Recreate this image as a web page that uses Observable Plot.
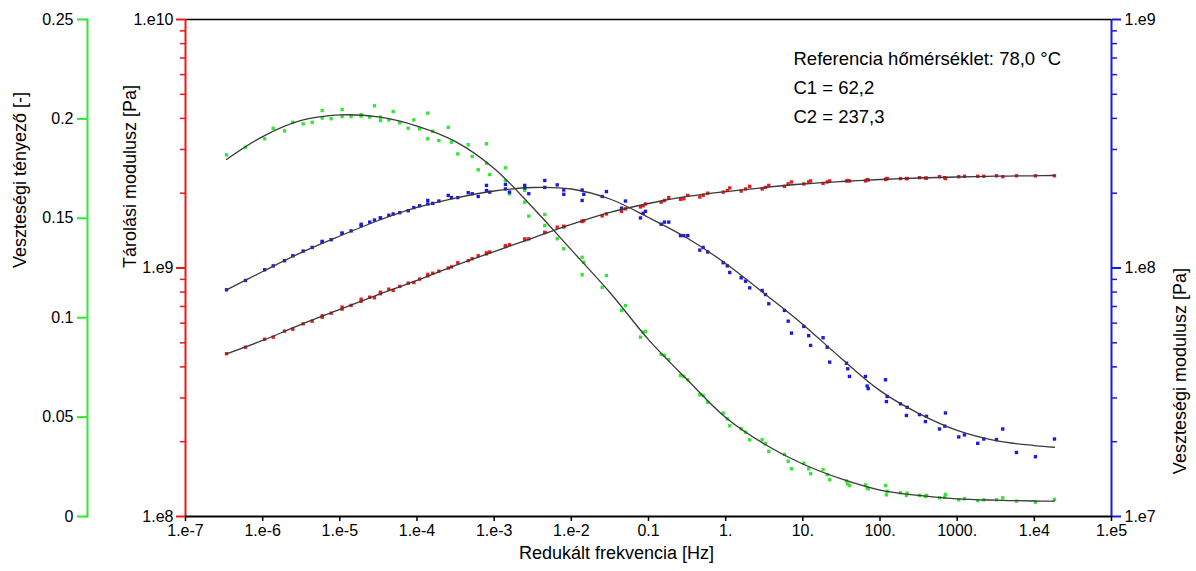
<!DOCTYPE html>
<html>
<head>
<meta charset="utf-8">
<script src="https://cdn.jsdelivr.net/npm/d3@7"></script>
<script src="https://cdn.jsdelivr.net/npm/@observablehq/plot@0.6"></script>
<style>
  html, body { margin: 0; padding: 0; background: #fff; }
  #wrap { position: relative; width: 1196px; height: 571px; }
  #wrap > svg, #wrap > figure { position: absolute; left: 0; top: 0; margin: 0; }
</style>
</head>
<body>
<div id="wrap"></div>
<script>
// ---------- measured data (reduced frequency sweep) ----------
const freq = [
  3.40e-7, 5.99e-7, 1.06e-6, 1.37e-6, 1.92e-6, 2.46e-6, 3.35e-6, 4.38e-6, 5.91e-6, 5.91e-6,
  7.73e-6, 1.07e-5, 1.07e-5, 1.40e-5, 1.89e-5, 1.89e-5, 2.44e-5, 2.81e-5, 3.36e-5, 3.36e-5,
  4.31e-5, 4.91e-5, 5.98e-5, 7.69e-5, 9.09e-5, 1.08e-4, 1.38e-4, 1.38e-4,
  1.60e-4, 1.92e-4, 2.54e-4, 2.80e-4, 3.38e-4, 4.61e-4, 5.19e-4, 6.21e-4, 7.95e-4, 7.95e-4,
  8.77e-4, 1.40e-3, 1.40e-3, 1.58e-3, 2.49e-3, 2.49e-3, 2.81e-3, 4.53e-3, 4.53e-3, 6.56e-3,
  7.98e-3, 7.98e-3, 1.38e-2, 1.45e-2, 1.38e-2, 2.51e-2, 2.85e-2, 4.47e-2, 5.03e-2, 7.87e-2,
  8.53e-2, 9.14e-2, 0.146, 0.161, 0.183, 0.260, 0.287, 0.323, 0.462, 0.511,
  0.586, 0.928, 1.05, 1.13, 1.59, 1.81, 2.05, 2.97, 3.28, 3.62,
  5.78, 6.46, 7.13, 10.3, 11.9, 12.6, 18.3, 20.7, 22.3,
  36.8, 38.2, 40.2, 64.8, 68.2, 70.3, 118, 121, 124, 184,
  220, 225, 325, 388, 400, 590, 691, 705, 1049, 1243,
  1849, 2212, 3231, 3898, 5869, 10340, 18230
];
const storageModulus = [
  4.52e8, 4.80e8, 5.17e8, 5.27e8, 5.57e8, 5.67e8, 5.96e8, 6.11e8, 6.34e8, 6.42e8,
  6.58e8, 6.83e8, 6.96e8, 7.07e8, 7.35e8, 7.49e8, 7.63e8, 7.59e8, 7.88e8, 7.99e8,
  8.22e8, 8.12e8, 8.43e8, 8.69e8, 8.74e8, 9.02e8, 9.30e8, 9.42e8,
  9.53e8, 9.71e8, 1.00e9, 1.01e9, 1.05e9, 1.07e9, 1.09e9, 1.12e9, 1.14e9, 1.15e9,
  1.16e9, 1.22e9, 1.23e9, 1.24e9, 1.30e9, 1.31e9, 1.31e9, 1.39e9, 1.39e9, 1.46e9,
  1.47e9, 1.47e9, 1.54e9, 1.55e9, 1.54e9, 1.62e9, 1.65e9, 1.69e9, 1.73e9, 1.76e9,
  1.78e9, 1.81e9, 1.84e9, 1.87e9, 1.92e9, 1.89e9, 1.90e9, 1.96e9, 1.93e9, 1.96e9,
  2.00e9, 2.02e9, 2.05e9, 2.10e9, 2.04e9, 2.08e9, 2.13e9, 2.08e9, 2.11e9, 2.15e9,
  2.13e9, 2.18e9, 2.22e9, 2.18e9, 2.22e9, 2.24e9, 2.19e9, 2.22e9, 2.24e9,
  2.24e9, 2.25e9, 2.24e9, 2.24e9, 2.27e9, 2.26e9, 2.27e9, 2.29e9, 2.29e9, 2.29e9,
  2.29e9, 2.29e9, 2.31e9, 2.30e9, 2.30e9, 2.33e9, 2.31e9, 2.29e9, 2.33e9, 2.34e9,
  2.34e9, 2.34e9, 2.35e9, 2.33e9, 2.35e9, 2.35e9, 2.35e9
];
const lossModulus = [
  8.17e7, 8.91e7, 9.84e7, 1.02e8, 1.07e8, 1.12e8, 1.17e8, 1.21e8, 1.27e8, 1.28e8,
  1.30e8, 1.38e8, 1.38e8, 1.41e8, 1.48e8, 1.50e8, 1.53e8, 1.56e8, 1.59e8, 1.59e8,
  1.63e8, 1.65e8, 1.67e8, 1.70e8, 1.75e8, 1.78e8, 1.81e8, 1.87e8,
  1.82e8, 1.86e8, 1.96e8, 1.92e8, 1.92e8, 2.01e8, 1.99e8, 1.94e8, 2.15e8, 2.05e8,
  2.02e8, 2.17e8, 2.08e8, 2.02e8, 2.15e8, 2.10e8, 1.99e8, 2.25e8, 2.11e8, 2.16e8,
  2.06e8, 1.98e8, 2.06e8, 1.98e8, 1.87e8, 1.94e8, 2.03e8, 1.74e8, 1.86e8, 1.59e8,
  1.66e8, 1.69e8, 1.50e8, 1.53e8, 1.53e8, 1.35e8, 1.35e8, 1.35e8, 1.18e8, 1.21e8,
  1.16e8, 1.05e8, 1.02e8, 9.59e7, 9.13e7, 8.85e7, 8.32e7, 8.12e7, 7.82e7, 7.18e7,
  6.75e7, 6.11e7, 5.47e7, 5.82e7, 5.34e7, 4.88e7, 5.24e7, 4.80e7, 4.18e7,
  4.14e7, 3.93e7, 3.66e7, 3.66e7, 3.35e7, 3.27e7, 3.55e7, 2.90e7, 3.04e7, 2.84e7,
  2.55e7, 2.75e7, 2.57e7, 2.41e7, 2.53e7, 2.25e7, 2.31e7, 2.61e7, 2.09e7, 2.13e7,
  1.97e7, 2.05e7, 2.04e7, 2.25e7, 1.81e7, 1.74e7, 2.05e7
];
const lossFactor = [
  0.1819, 0.1858, 0.1900, 0.1953, 0.1940, 0.1983, 0.1975, 0.1983, 0.2042, 0.2004,
  0.2001, 0.2047, 0.2012, 0.2012, 0.2021, 0.2014, 0.2009, 0.2066, 0.2009, 0.1992,
  0.1995, 0.2037, 0.1980, 0.1953, 0.1995, 0.1950, 0.2029, 0.1900,
  0.1938, 0.1891, 0.1958, 0.1883, 0.1824, 0.1870, 0.1811, 0.1744, 0.1875, 0.1777,
  0.1720, 0.1754, 0.1690, 0.1623, 0.1640, 0.1581, 0.1511, 0.1519, 0.1464, 0.1397,
  0.1347, 0.1455, 0.1304, 0.1279, 0.1216, 0.1153, 0.1212, 0.1036, 0.1061, 0.0902,
  0.0927, 0.0931, 0.0815, 0.0811, 0.0790, 0.0709, 0.0704, 0.0688, 0.0612, 0.0609,
  0.0575, 0.0520, 0.0491, 0.0456, 0.0441, 0.0424, 0.0386, 0.0386, 0.0366, 0.0328,
  0.0312, 0.0278, 0.0240, 0.0268, 0.0240, 0.0215, 0.0236, 0.0211, 0.0185,
  0.0178, 0.0164, 0.0156, 0.0159, 0.0144, 0.0139, 0.0156, 0.0109, 0.0127, 0.0119,
  0.0106, 0.0117, 0.0106, 0.0101, 0.0106, 0.0094, 0.0097, 0.0111, 0.0084, 0.0089,
  0.0080, 0.0084, 0.0084, 0.0094, 0.0077, 0.0072, 0.0086
];

// ---------- fitted master curves ----------
const fitFreq = [3.4e-7, 1e-6, 3.16e-6, 1e-5, 3.16e-5, 1e-4, 3.16e-4, 1e-3, 3.16e-3, 1e-2, 3.16e-2, 0.1,
  0.316, 1, 3.16, 10, 31.6, 100, 316, 1000, 3160, 1e4, 1.82e4];
const fitStorage = [4.51e8, 5.11e8, 5.93e8, 6.81e8, 7.82e8, 8.91e8, 1.024e9, 1.165e9, 1.32e9, 1.497e9, 1.673e9, 1.818e9,
  1.94e9, 2.031e9, 2.108e9, 2.178e9, 2.229e9, 2.271e9, 2.302e9, 2.324e9, 2.341e9, 2.35e9, 2.356e9];
const fitLoss = [8.16e7, 9.68e7, 1.154e8, 1.345e8, 1.553e8, 1.752e8, 1.912e8, 2.041e8, 2.108e8, 2.079e8, 1.895e8, 1.597e8,
  1.32e8, 1.043e8, 7.90e7, 5.93e7, 4.32e7, 3.21e7, 2.60e7, 2.22e7, 2.02e7, 1.93e7, 1.90e7];
const fitTan = [0.1796, 0.1911, 0.1992, 0.2020, 0.2010, 0.1964, 0.1886, 0.1751, 0.1554, 0.1341, 0.1127, 0.0890,
  0.0689, 0.0498, 0.0365, 0.0264, 0.0189, 0.0133, 0.0106, 0.0089, 0.0082, 0.0078, 0.0077];

// ---------- axes / text ----------
const xTicks = [1e-7, 1e-6, 1e-5, 1e-4, 1e-3, 1e-2, 1e-1, 1, 10, 100, 1000, 1e4, 1e5];
const xTickLabels = ["1.e-7", "1.e-6", "1.e-5", "1.e-4", "1.e-3", "1.e-2", "0.1", "1.", "10.", "100.", "1000.", "1.e4", "1.e5"];
const storageTicks = [1e8, 1e9, 1e10];
const storageTickLabels = ["1.e8", "1.e9", "1.e10"];
const storageMinor = [2e8, 3e8, 4e8, 5e8, 6e8, 7e8, 8e8, 9e8, 2e9, 3e9, 4e9, 5e9, 6e9, 7e9, 8e9, 9e9];
const lossTicks = [1e7, 1e8, 1e9];
const lossTickLabels = ["1.e7", "1.e8", "1.e9"];
const lossMinor = [2e7, 3e7, 4e7, 5e7, 6e7, 7e7, 8e7, 9e7, 2e8, 3e8, 4e8, 5e8, 6e8, 7e8, 8e8, 9e8];
const tanTicks = [0, 0.05, 0.1, 0.15, 0.2, 0.25];
const tanTickLabels = ["0", "0.05", "0.1", "0.15", "0.2", "0.25"];
const xTitle = "Redukált frekvencia [Hz]";
const storageTitle = "Tárolási modulusz [Pa]";
const lossTitle = "Veszteségi modulusz [Pa]";
const tanTitle = "Veszteségi tényező [-]";
const notes = ["Referencia hőmérséklet: 78,0 °C", "C1 = 62,2", "C2 = 237,3"];

const RED = "#f01818", BLUE = "#1a1ae6", GREEN = "#30e830", CURVE = "#3a3a3a";
const FONT = "'Liberation Sans', Arial, Helvetica, sans-serif";

const pts = freq.map((f, i) => ({f, E1: storageModulus[i], E2: lossModulus[i], tan: lossFactor[i]}));
const fit = fitFreq.map((f, i) => ({f, E1: fitStorage[i], E2: fitLoss[i], tan: fitTan[i]}));

const common = {
  width: 1196, height: 571,
  marginLeft: 185, marginRight: 85, marginTop: 19, marginBottom: 55,
  style: {fontFamily: FONT, fontSize: "16px", background: "transparent", color: "#000", overflow: "visible"}
};
const xScale = {type: "log", domain: [1e-7, 1e5], range: [185, 1111]};
const DOT_R = 1.9;

// green: loss factor (linear, outer left axis)
const chartTan = Plot.plot({
  ...common,
  marginLeft: 87,
  x: {...xScale, axis: null},
  y: {type: "linear", domain: [0, 0.25], axis: null},
  marks: [
    Plot.frame({anchor: "left", stroke: GREEN, strokeWidth: 2}),
    Plot.axisY({ticks: tanTicks, tickFormat: d => tanTickLabels[tanTicks.indexOf(d)], tickSize: 10, tickPadding: 4,
      stroke: GREEN, strokeWidth: 2, fill: "#000", label: null, fontSize: 16}),
    Plot.text([tanTitle], {text: d => d, frameAnchor: "left", rotate: -90, dx: -67, fontSize: 18, fill: "#000"}),
    Plot.dot(pts, {x: "f", y: "tan", symbol: "square", r: DOT_R, fill: GREEN}),
    Plot.line(fit, {x: "f", y: "tan", stroke: CURVE, strokeWidth: 1.3, curve: "catmull-rom"})
  ]
});

// blue: loss modulus (log, right axis)
const chartLoss = Plot.plot({
  ...common,
  x: {...xScale, axis: null},
  y: {type: "log", domain: [1e7, 1e9], axis: null},
  marks: [
    Plot.ruleX([1e5], {stroke: BLUE, strokeWidth: 2}),
    Plot.axisY({anchor: "right", ticks: lossTicks, tickFormat: d => lossTickLabels[lossTicks.indexOf(d)], tickSize: 9, tickPadding: 4,
      stroke: BLUE, strokeWidth: 2, fill: "#000", label: null, fontSize: 16}),
    Plot.axisY({anchor: "right", ticks: lossMinor, tickFormat: () => "", tickSize: 5, stroke: BLUE, strokeWidth: 1.5, label: null}),
    Plot.text([lossTitle], {text: d => d, frameAnchor: "right", rotate: -90, dx: 69, fontSize: 18, fill: "#000"}),
    Plot.dot(pts, {x: "f", y: "E2", symbol: "square", r: DOT_R, fill: BLUE}),
    Plot.line(fit, {x: "f", y: "E2", stroke: CURVE, strokeWidth: 1.3, curve: "catmull-rom"})
  ]
});

// red: storage modulus (log, left axis) + x axis + frame lines + notes
const noteDy = [32.4, 61.8, 90.1];
const chartStorage = Plot.plot({
  ...common,
  x: xScale,
  y: {type: "log", domain: [1e8, 1e10]},
  marks: [
    Plot.ruleY([1e10], {stroke: "#000", strokeWidth: 1.5}),
    Plot.axisX({ticks: xTicks, tickFormat: d => xTickLabels[xTicks.indexOf(d)], tickSize: 5, tickPadding: 3,
      stroke: "#000", strokeWidth: 1.5, fill: "#000", label: null, fontSize: 16}),
    Plot.text([xTitle], {text: d => d, frameAnchor: "bottom", dx: -32, dy: 42, fontSize: 18, fill: "#000"}),
    Plot.axisY({ticks: storageTicks, tickFormat: d => storageTickLabels[storageTicks.indexOf(d)], tickSize: 9, tickPadding: 3,
      stroke: RED, strokeWidth: 2, fill: "#000", label: null, fontSize: 16}),
    Plot.axisY({ticks: storageMinor, tickFormat: () => "", tickSize: 5, stroke: RED, strokeWidth: 1.5, label: null}),
    Plot.text([storageTitle], {text: d => d, frameAnchor: "left", rotate: -90, dx: -55, fontSize: 18, fill: "#000"}),
    Plot.dot(pts, {x: "f", y: "E1", symbol: "square", r: DOT_R, fill: RED}),
    Plot.line(fit, {x: "f", y: "E1", stroke: CURVE, strokeWidth: 1.3, curve: "catmull-rom"}),
    Plot.ruleX([1e-7], {stroke: RED, strokeWidth: 2}),
    Plot.ruleY([1e8], {stroke: "#000", strokeWidth: 2}),
    ...notes.map((t, i) => Plot.text([t], {text: d => d, frameAnchor: "top-left", textAnchor: "start",
      dx: 608, dy: noteDy[i], fontSize: 18.5, fill: "#000"}))
  ]
});

const wrap = document.getElementById("wrap");
wrap.appendChild(chartTan);
wrap.appendChild(chartLoss);
wrap.appendChild(chartStorage);
</script>
</body>
</html>
